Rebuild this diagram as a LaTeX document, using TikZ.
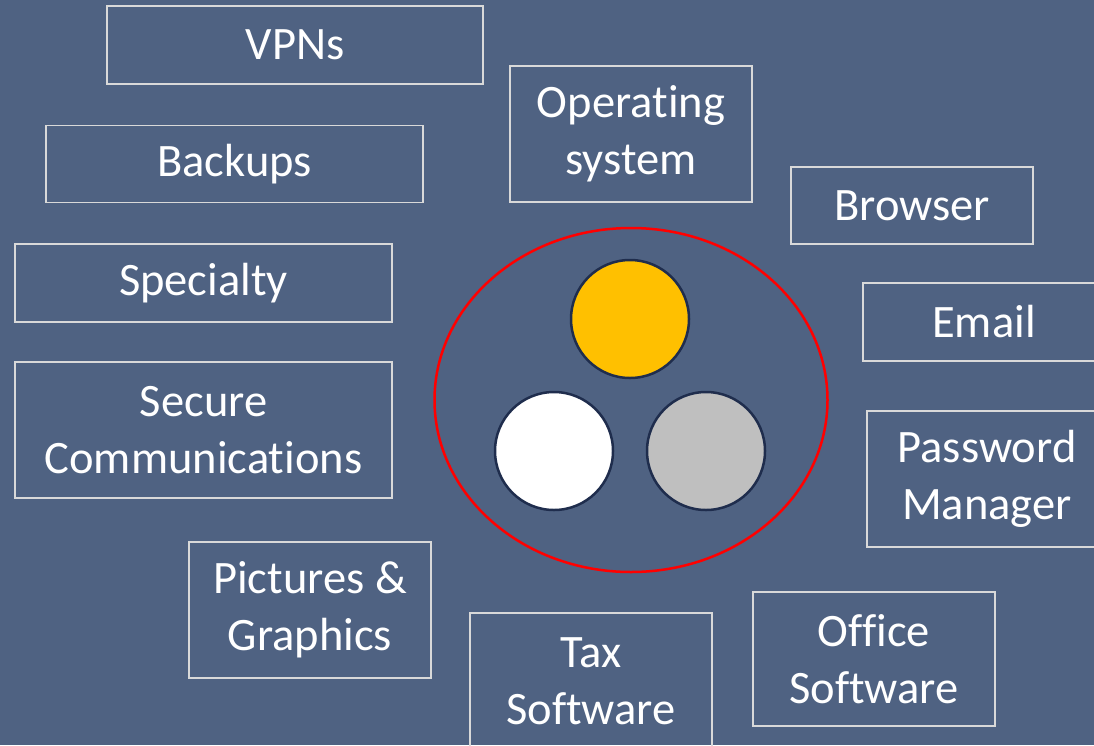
\documentclass[tikz,border=0pt]{standalone}
\usepackage{fontspec}
\setmainfont{Carlito}[Ligatures={NoCommon,NoContextual},RawFeature={-liga}]
\usetikzlibrary{shapes.geometric}
\definecolor{bgslate}{HTML}{4F6282}
\definecolor{boxline}{HTML}{D9D9D9}
\definecolor{ringred}{HTML}{FF0000}
\definecolor{navyline}{HTML}{1F2D4D}
\definecolor{goldfill}{HTML}{FFC000}
\definecolor{grayfill}{HTML}{BFBFBF}
\tikzset{
  labelbox/.style={draw=boxline, line width=1.5pt, text=white, align=center, inner sep=0pt,
    font=\fontsize{46.5}{56.6}\selectfont},
  dot/.style={circle, draw=navyline, line width=2.5pt, minimum size=118pt, inner sep=0pt}
}
\begin{document}
\begin{tikzpicture}[x=1pt,y=-1pt]
\useasboundingbox (0,0) rectangle (1094,745);
\clip (0,0) rectangle (1094,745);
\fill[bgslate] (0,0) rectangle (1094,745);
% boxes
\node[labelbox, minimum width=376pt, minimum height=78pt] (vpn) at (295,45) {VPNs};
\node[labelbox, minimum width=377pt, minimum height=77pt] (backups) at (234.5,164) {Backups};
\node[labelbox, minimum width=377pt, minimum height=78pt] (specialty) at (203.5,283) {Specialty};
\node[labelbox, minimum width=377pt, minimum height=136pt] (secure) at (203.5,430) {Secure\\Communications};
\node[labelbox, minimum width=242pt, minimum height=136pt] (pictures) at (310,610) {Pictures \&\\Graphics};
\node[labelbox, minimum width=242pt, minimum height=136pt] (os) at (631,134) {Operating\\system};
\node[labelbox, minimum width=242pt, minimum height=77pt] (browser) at (912,205.5) {Browser};
\node[labelbox, minimum width=242pt, minimum height=78pt] (email) at (984,322) {Email};
\node[labelbox, minimum width=240pt, minimum height=136pt] (password) at (987,479) {Password\\Manager};
\node[labelbox, minimum width=242pt, minimum height=136pt] (tax) at (591,681) {Tax\\Software};
\node[labelbox, minimum width=242pt, minimum height=134pt] (office) at (874,659) {Office\\Software};
% centre ring
\node[ellipse, draw=ringred, line width=2.5pt, minimum width=393pt, minimum height=344pt, inner sep=0pt] (ring) at (631,400) {};
\node[dot, fill=goldfill] (gold) at (630,319) {};
\node[dot, fill=white] (whitedot) at (554,451) {};
\node[dot, fill=grayfill] (graydot) at (706,451) {};
\end{tikzpicture}
\end{document}
